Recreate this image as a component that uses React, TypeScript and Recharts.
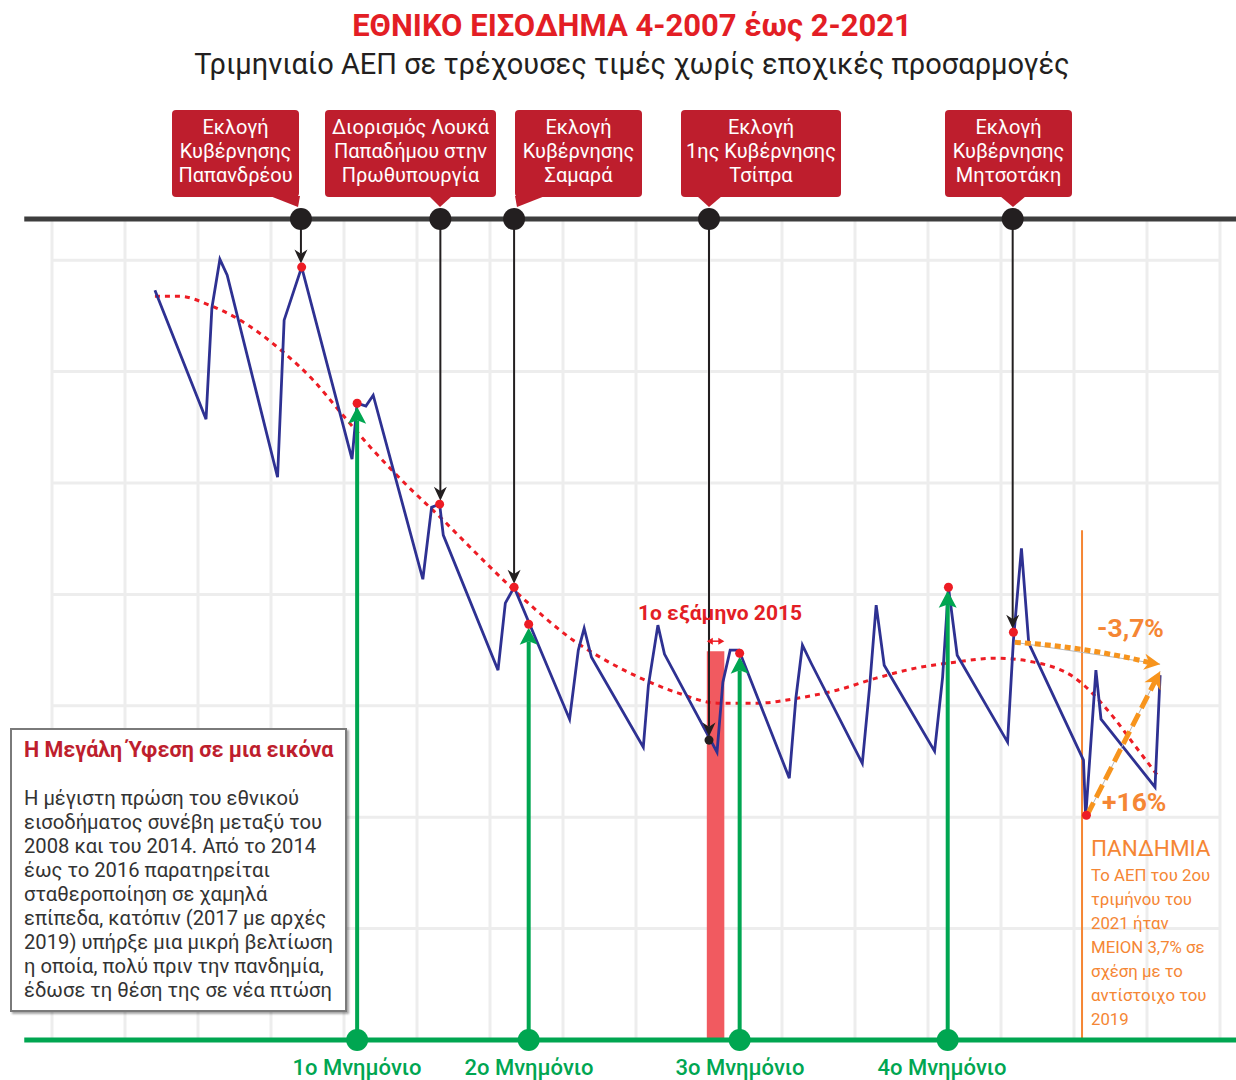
import React from 'react';
import {
  ComposedChart, Line, Scatter, XAxis, YAxis, CartesianGrid,
  ReferenceLine, ReferenceDot, ReferenceArea,
} from 'recharts';

// ---------- DATA ----------
// time in decimal years (plot scale), value: quarterly GDP (bn €, estimated)
const GDP_T = [2007.81, 2008.51, 2008.59, 2008.70, 2008.80, 2009.49, 2009.58, 2009.82, 2010.51, 2010.58, 2010.70, 2010.80,
  2011.48, 2011.60, 2011.71, 2011.76, 2012.51, 2012.61, 2012.73, 2013.49, 2013.61, 2013.69, 2013.79,
  2014.50, 2014.57, 2014.70, 2014.79, 2015.51, 2015.59, 2015.69, 2015.81, 2016.50, 2016.59, 2016.68, 2016.80,
  2017.50, 2017.60, 2017.69, 2017.80, 2018.49, 2018.60, 2018.68, 2018.80, 2019.49, 2019.57, 2019.68, 2019.78,
  2020.53, 2020.56, 2020.70, 2020.77, 2021.51, 2021.58];
const GDP_V = [63.65, 57.86, 62.85, 65.04, 64.33, 55.26, 62.31, 64.69, 56.07, 58.58, 58.45, 58.94,
  50.68, 53.91, 54.05, 52.66, 46.60, 49.61, 50.32, 44.40, 47.50, 48.48, 47.18,
  43.14, 45.92, 48.62, 47.32, 42.92, 46.06, 47.50, 47.50, 41.75, 45.34, 47.72, 46.91,
  42.42, 45.84, 49.52, 46.82, 42.96, 46.28, 50.32, 47.27, 43.37, 47.94, 52.07, 47.81,
  42.56, 40.00, 46.60, 44.40, 41.35, 46.38];

const TREND_T = [2007.81, 2008.15, 2008.56, 2008.93, 2009.57, 2009.98, 2010.35, 2010.80, 2011.26, 2011.72, 2012.17,
  2012.63, 2013.08, 2013.54, 2013.91, 2014.44, 2014.98, 2015.52, 2016.07, 2016.61, 2017.15, 2017.69, 2018.23,
  2018.77, 2019.32, 2019.85, 2020.40, 2020.94, 2021.21, 2021.56];
const TREND_V = [63.38, 63.38, 62.98, 62.40, 60.87, 59.61, 58.18, 56.47, 54.90, 53.46, 51.98,
  50.50, 49.16, 47.94, 47.18, 46.28, 45.57, 45.12, 45.12, 45.34, 45.70, 46.24, 46.69,
  46.96, 47.14, 46.96, 46.28, 44.49, 43.32, 41.80];

const RED_DOT_T = [2009.82, 2010.58, 2011.71, 2012.73, 2012.93, 2015.82, 2018.68, 2019.57, 2020.57];
const RED_DOT_V = [64.69, 58.58, 54.05, 50.32, 48.66, 47.36, 50.32, 48.30, 40.09];

const ELECTION_T = [2009.81, 2011.72, 2012.73, 2015.40, 2019.56];
const ELECTION_TARGET_V = [64.69, 54.05, 50.32, 43.46, 48.30];
const ELECTION_LABELS = [
  ['Εκλογή', 'Κυβέρνησης', 'Παπανδρέου'],
  ['Διορισμός Λουκά', 'Παπαδήμου στην', 'Πρωθυπουργία'],
  ['Εκλογή', 'Κυβέρνησης', 'Σαμαρά'],
  ['Εκλογή', '1ης Κυβέρνησης', 'Τσίπρα'],
  ['Εκλογή', 'Κυβέρνησης', 'Μητσοτάκη'],
];

const MEMO_T = [2010.58, 2012.93, 2015.82, 2018.67];
const MEMO_TARGET_V = [58.58, 48.66, 47.36, 50.32];
const MEMO_LABELS = ['1ο Μνημόνιο', '2ο Μνημόνιο', '3ο Μνημόνιο', '4ο Μνημόνιο'];

const X_TICKS = [2006.4, 2007.4, 2008.4, 2009.4, 2010.4, 2011.4, 2012.4, 2013.4, 2014.4, 2015.4, 2016.4,
  2017.4, 2018.4, 2019.4, 2020.4, 2021.4, 2022.4];
const Y_TICKS = [35, 40, 45, 50, 55, 60, 65];
const X_DOMAIN = [2006.4, 2022.4];
const Y_DOMAIN = [30, 66.85];

const SEMESTER_2015 = [2015.37, 2015.61];
const SEMESTER_TOP = 47.45;
const SEMESTER_ARROW_V = 47.9;
const PANDEMIC_T = 2020.51;
const PANDEMIC_TOP = 52.88;
const DROP_ARROW = [[2019.59, 47.85], [2021.58, 46.87]];
const RISE_ARROW = [[2020.58, 40.09], [2021.58, 46.55]];
const LINE_EXTENT = [2006.02, 2022.62];

const INFO_LINES = [
  'Η μέγιστη πρώση του εθνικού',
  'εισοδήματος συνέβη μεταξύ του',
  '2008 και του 2014. Από το 2014',
  'έως το 2016 παρατηρείται',
  'σταθεροποίηση σε χαμηλά',
  'επίπεδα, κατόπιν (2017 με αρχές',
  '2019) υπήρξε μια μικρή βελτίωση',
  'η οποία, πολύ πριν την πανδημία,',
  'έδωσε τη θέση της σε νέα πτώση',
];
const PANDEMIC_LINES = ['Το ΑΕΠ του 2ου', 'τριμήνου του', '2021 ήταν', 'ΜΕΙΟΝ 3,7% σε', 'σχέση με το', 'αντίστοιχο του', '2019'];

// ---------- helpers ----------
const zip = (ts: number[], vs: number[]) => ts.map((t, i) => ({ t, v: vs[i] }));
const gdpData = zip(GDP_T, GDP_V);
const trendData = zip(TREND_T, TREND_V);
const redDots = zip(RED_DOT_T, RED_DOT_V);

const BLACK = '#231f20';
const GREEN = '#00a651';
const RED = '#ed1c24';
const BOXRED = '#be1e2d';
const ORANGE = '#f58634';
const ORANGE2 = '#f7941d';
const FONT = 'Roboto, "Noto Sans", sans-serif';

function arrowShape(color: string, width: number, len: number, half: number, shortenEnd: number, opts: any = {}) {
  return (p: any) => {
    const { x1, y1, x2, y2 } = p;
    const dx = x2 - x1, dy = y2 - y1;
    const L = Math.sqrt(dx * dx + dy * dy) || 1;
    const ux = dx / L, uy = dy / L;
    const nx = -uy, ny = ux;
    const tx = x2 - ux * shortenEnd, ty = y2 - uy * shortenEnd;
    const bx = tx - ux * len, by = ty - uy * len;
    const notch = opts.notch ?? 0.25;
    const mx = tx - ux * len * (1 - notch), my = ty - uy * len * (1 - notch);
    const pts = `${tx},${ty} ${bx + nx * half},${by + ny * half} ${mx},${my} ${bx - nx * half},${by - ny * half}`;
    let path = `M${x1},${y1} L${mx},${my}`;
    if (opts.curve) {
      const cx = (x1 + mx) / 2 + nx * opts.curve, cy = (y1 + my) / 2 + ny * opts.curve;
      path = `M${x1},${y1} Q${cx},${cy} ${mx},${my}`;
    }
    return (
      <g>
        {opts.guide && <line x1={x1} y1={y1} x2={tx} y2={ty} stroke="#b5b5b5" strokeWidth={1} />}
        <path d={path} stroke={color} strokeWidth={width} fill="none" strokeDasharray={opts.dash} />
        <polygon points={pts} fill={color} />
      </g>
    );
  };
}

function doubleArrow(color: string) {
  return (p: any) => {
    const { x1, y1, x2, y2 } = p;
    return (
      <g>
        <line x1={x1 + 2} y1={y1} x2={x2 - 2} y2={y2} stroke={color} strokeWidth={1.5} />
        <polygon points={`${x1},${y1} ${x1 + 6},${y1 - 3.5} ${x1 + 6},${y1 + 3.5}`} fill={color} />
        <polygon points={`${x2},${y2} ${x2 - 6},${y2 - 3.5} ${x2 - 6},${y2 + 3.5}`} fill={color} />
      </g>
    );
  };
}

const BOXES = [
  { left: 172, width: 127, tail: [270, 300, 298] },
  { left: 325, width: 171, tail: [429, 452, 440] },
  { left: 515, width: 127, tail: [515, 545, 517] },
  { left: 681, width: 160, tail: [697, 722, 709] },
  { left: 945, width: 127, tail: [1000, 1026, 1013] },
];
const MEMO_LABEL_X = [357, 529, 740, 942];

export default function App() {
  return (
    <div style={{ position: 'relative', width: 1236, height: 1080, background: '#fff', overflow: 'hidden', fontFamily: FONT }}>
      <style>{'body{margin:0;}'}</style>
      <div style={{ position: 'absolute', left: 0, top: 0 }}>
        <ComposedChart width={1236} height={1080} margin={{ top: 219, right: 16, bottom: 40, left: 52 }}>
          <XAxis dataKey="t" type="number" domain={X_DOMAIN} ticks={X_TICKS} hide allowDataOverflow />
          <YAxis dataKey="v" type="number" domain={Y_DOMAIN} ticks={Y_TICKS} hide allowDataOverflow />
          <CartesianGrid stroke="#ededed" strokeWidth={3} />
          <ReferenceArea x1={SEMESTER_2015[0]} x2={SEMESTER_2015[1]} y1={Y_DOMAIN[0]} y2={SEMESTER_TOP}
            fill="#f15a60" fillOpacity={1} stroke="none" ifOverflow="visible" />
          <ReferenceLine segment={[{ x: PANDEMIC_T, y: Y_DOMAIN[0] }, { x: PANDEMIC_T, y: PANDEMIC_TOP }]}
            stroke={ORANGE} strokeWidth={2} ifOverflow="visible" />
          <Line data={trendData} dataKey="v" type="monotone" stroke={RED} strokeWidth={3} strokeDasharray="5 5"
            dot={false} isAnimationActive={false} />
          <Line data={gdpData} dataKey="v" type="linear" stroke="#2e3192" strokeWidth={2.8}
            dot={false} isAnimationActive={false} />
          <ReferenceLine segment={[{ x: LINE_EXTENT[0], y: Y_DOMAIN[1] }, { x: LINE_EXTENT[1], y: Y_DOMAIN[1] }]}
            stroke="#3d3d3d" strokeWidth={5} ifOverflow="visible" />
          <ReferenceLine segment={[{ x: LINE_EXTENT[0], y: Y_DOMAIN[0] }, { x: LINE_EXTENT[1], y: Y_DOMAIN[0] }]}
            stroke={GREEN} strokeWidth={5} ifOverflow="visible" />
          {ELECTION_T.map((t, i) => (
            <ReferenceLine key={'ea' + i} segment={[{ x: t, y: Y_DOMAIN[1] }, { x: t, y: ELECTION_TARGET_V[i] }]}
              ifOverflow="visible" shape={arrowShape(BLACK, 2, 14, 6.5, 3.5, { notch: 0.3 })} />
          ))}
          {MEMO_T.map((t, i) => (
            <ReferenceLine key={'ma' + i} segment={[{ x: t, y: Y_DOMAIN[0] }, { x: t, y: MEMO_TARGET_V[i] }]}
              ifOverflow="visible" shape={arrowShape(GREEN, 4, 17, 9, 3.5, { notch: 0.2 })} />
          ))}
          <ReferenceLine segment={[{ x: SEMESTER_2015[0], y: SEMESTER_ARROW_V }, { x: SEMESTER_2015[1], y: SEMESTER_ARROW_V }]}
            ifOverflow="visible" shape={doubleArrow(RED)} />
          <ReferenceLine segment={[{ x: DROP_ARROW[0][0], y: DROP_ARROW[0][1] }, { x: DROP_ARROW[1][0], y: DROP_ARROW[1][1] }]}
            ifOverflow="visible" shape={arrowShape(ORANGE2, 5, 16, 8, 0, { dash: '6 4', curve: -6, guide: true, notch: 0.3 })} />
          <ReferenceLine segment={[{ x: RISE_ARROW[0][0], y: RISE_ARROW[0][1] }, { x: RISE_ARROW[1][0], y: RISE_ARROW[1][1] }]}
            ifOverflow="visible" shape={arrowShape(ORANGE2, 5, 17, 9, 0, { dash: '14 6', guide: true, notch: 0.3 })} />
          <Scatter data={redDots} dataKey="v" fill={RED} isAnimationActive={false} />
          <Scatter data={[{ t: ELECTION_T[3], v: ELECTION_TARGET_V[3] }]} dataKey="v" fill={BLACK} isAnimationActive={false} />
          {ELECTION_T.map((t, i) => (
            <ReferenceDot key={'ed' + i} x={t} y={Y_DOMAIN[1]} r={11} fill={BLACK} stroke="none" ifOverflow="visible" />
          ))}
          {MEMO_T.map((t, i) => (
            <ReferenceDot key={'md' + i} x={t} y={Y_DOMAIN[0]} r={11} fill={GREEN} stroke="none" ifOverflow="visible" />
          ))}
        </ComposedChart>
      </div>

      {/* Titles */}
      <div style={{ position: 'absolute', left: 0, width: 1264, top: 8, textAlign: 'center', color: '#e31e25', fontSize: 31, fontWeight: 700, lineHeight: '36px', whiteSpace: 'nowrap' }}>
        ΕΘΝΙΚΟ ΕΙΣΟΔΗΜΑ 4-2007 έως 2-2021
      </div>
      <div style={{ position: 'absolute', left: 0, width: 1264, top: 46, textAlign: 'center', color: BLACK, fontSize: 29, lineHeight: '36px', whiteSpace: 'nowrap' }}>
        Τριμηνιαίο ΑΕΠ σε τρέχουσες τιμές χωρίς εποχικές προσαρμογές
      </div>

      {/* Event boxes */}
      {BOXES.map((b, i) => (
        <React.Fragment key={'box' + i}>
          <div style={{ position: 'absolute', left: b.left, top: 110, width: b.width, height: 87, background: BOXRED, borderRadius: 4, color: '#fff', textAlign: 'center', fontSize: 20, lineHeight: '24px', paddingTop: 5, boxSizing: 'border-box', whiteSpace: 'nowrap' }}>
            {ELECTION_LABELS[i].map((l, j) => <div key={j}>{l}</div>)}
          </div>
          <svg style={{ position: 'absolute', left: 0, top: 0 }} width={1236} height={220}>
            <polygon points={`${b.tail[0]},196 ${b.tail[1]},196 ${b.tail[2]},207`} fill={BOXRED} />
          </svg>
        </React.Fragment>
      ))}

      {/* 1st semester 2015 label */}
      <div style={{ position: 'absolute', left: 620, width: 200, top: 599, textAlign: 'center', color: '#e31e25', fontSize: 21, fontWeight: 700, lineHeight: '28px' }}>
        1ο εξάμηνο 2015
      </div>

      {/* percentage labels */}
      <div style={{ position: 'absolute', left: 1097, top: 612, color: ORANGE, fontSize: 26.5, fontWeight: 700, lineHeight: '32px' }}>-3,7%</div>
      <div style={{ position: 'absolute', left: 1102, top: 786, color: ORANGE, fontSize: 26.5, fontWeight: 700, lineHeight: '32px' }}>+16%</div>

      {/* pandemic text */}
      <div style={{ position: 'absolute', left: 1091, top: 834, color: ORANGE, fontSize: 22.5, lineHeight: '28px' }}>ΠΑΝΔΗΜΙΑ</div>
      <div style={{ position: 'absolute', left: 1091, top: 863, color: ORANGE, fontSize: 16.8, lineHeight: '24px', whiteSpace: 'nowrap' }}>
        {PANDEMIC_LINES.map((l, j) => <div key={j}>{l}</div>)}
      </div>

      {/* memorandum labels */}
      {MEMO_LABELS.map((l, i) => (
        <div key={'ml' + i} style={{ position: 'absolute', left: MEMO_LABEL_X[i] - 100, width: 200, top: 1057, textAlign: 'center', color: GREEN, fontSize: 22, fontWeight: 500, lineHeight: '22px' }}>{l}</div>
      ))}

      {/* info box */}
      <div style={{ position: 'absolute', left: 10, top: 728, width: 337, height: 284, boxSizing: 'border-box', border: '2px solid #7a7a7a', background: '#fff', boxShadow: '2px 2px 2px rgba(0,0,0,0.35)', padding: '6px 0 0 12px' }}>
        <div style={{ color: BOXRED, fontSize: 21.5, fontWeight: 700, lineHeight: '28px', whiteSpace: 'nowrap' }}>Η Μεγάλη Ύφεση σε μια εικόνα</div>
        <div style={{ marginTop: 22, color: '#333', fontSize: 20.2, lineHeight: '24px', whiteSpace: 'nowrap' }}>
          {INFO_LINES.map((l, j) => <div key={j}>{l}</div>)}
        </div>
      </div>
    </div>
  );
}
